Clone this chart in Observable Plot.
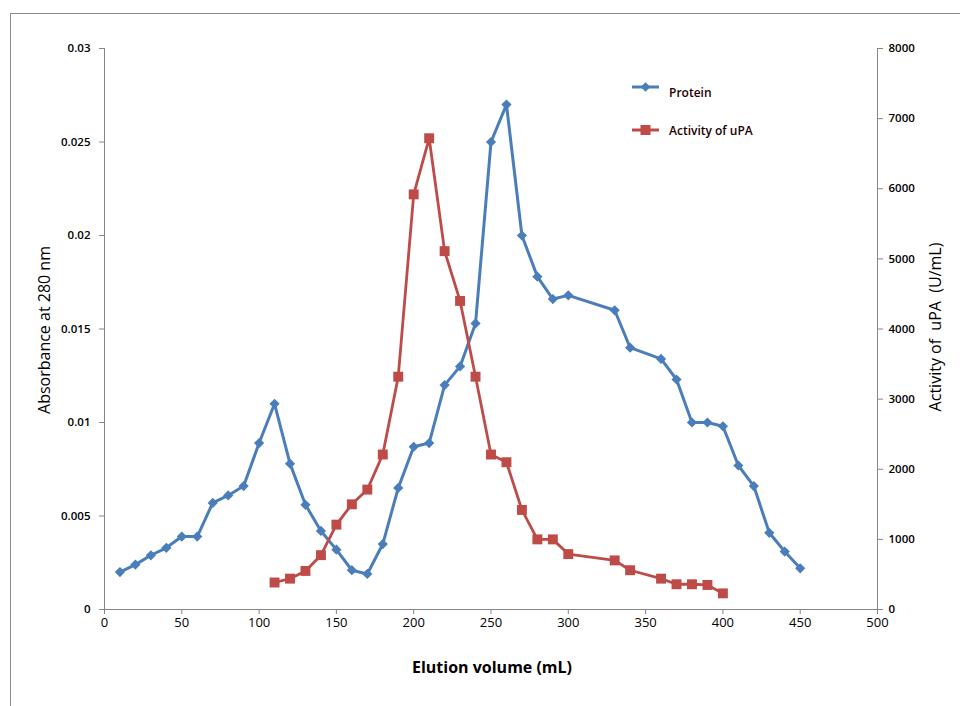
<!DOCTYPE html>
<html>
<head>
<meta charset="utf-8">
<script src="https://cdn.jsdelivr.net/npm/d3@7"></script>
<script src="https://cdn.jsdelivr.net/npm/@observablehq/plot@0.6"></script>
<style>
  html, body { margin: 0; padding: 0; background: #fff; overflow: hidden; }
  #wrap { position: relative; width: 960px; height: 706px; overflow: hidden; }
  #frame { position: absolute; left: 10px; top: 13px; width: 1200px; height: 1000px; border: 1px solid #8c8c8c; }
  #chart { position: absolute; left: 0; top: 0; }
</style>
</head>
<body>
<div id="wrap"><div id="frame"></div><div id="chart"></div></div>
<script>
// ---- data ----
const proteinVolume = [10,20,30,40,50,60,70,80,90,100,110,120,130,140,150,160,170,180,190,200,210,220,230,240,250,260,270,280,290,300,330,340,360,370,380,390,400,410,420,430,440,450];
const proteinAbsorbance = [0.0020,0.0024,0.0029,0.0033,0.0039,0.0039,0.0057,0.0061,0.0066,0.0089,0.0110,0.0078,0.0056,0.0042,0.0032,0.0021,0.0019,0.0035,0.0065,0.0087,0.0089,0.0120,0.0130,0.0153,0.0250,0.0270,0.0200,0.0178,0.0166,0.0168,0.0160,0.0140,0.0134,0.0123,0.0100,0.0100,0.0098,0.0077,0.0066,0.0041,0.0031,0.0022];
const activityVolume = [110,120,130,140,150,160,170,180,190,200,210,220,230,240,250,260,270,280,290,300,330,340,360,370,380,390,400];
const activityUPA = [385,440,550,775,1210,1500,1710,2210,3320,5920,6720,5110,4400,3320,2210,2100,1420,1000,1000,790,700,560,440,360,360,350,230];
const xTicks = [0,50,100,150,200,250,300,350,400,450,500];
const leftTicks = [0,0.005,0.01,0.015,0.02,0.025,0.03];
const rightTicks = [0,1000,2000,3000,4000,5000,6000,7000,8000];
const seriesNames = ["Protein", "Activity of uPA"];
const xTitle = "Elution volume (mL)";
const leftTitle = "Absorbance at 280 nm";
const rightTitle = "Activity of  uPA  (U/mL)";

const blue = "#4a7ebb", red = "#be4b48", axisGray = "#868686";
const leftMax = 0.03, rightMax = 8000;
const k = leftMax / rightMax; // map right axis into left scale

const protein = proteinVolume.map((v, i) => ({volume: v, value: proteinAbsorbance[i]}));
const activity = activityVolume.map((v, i) => ({volume: v, value: activityUPA[i]}));

const plot = Plot.plot({
  width: 960,
  height: 706,
  marginLeft: 104,
  marginRight: 83,
  marginTop: 48,
  marginBottom: 97,
  style: {fontFamily: "Open Sans", color: "#000", background: "transparent", overflow: "visible"},
  x: {domain: [0, 500]},
  y: {domain: [0, leftMax]},
  marks: [
    Plot.ruleX([0, 500], {stroke: axisGray, strokeWidth: 1}),
    Plot.ruleY([0], {stroke: axisGray, strokeWidth: 1}),
    Plot.axisX({ticks: xTicks, tickSize: 5, tickPadding: 3, stroke: axisGray, fill: "#000", fontSize: 13, label: null, tickFormat: d => String(d)}),
    Plot.axisY({anchor: "left", ticks: leftTicks, tickSize: 5, tickPadding: 9, stroke: axisGray, fill: "#000", fontSize: 11.5, fontWeight: 600, label: null, tickFormat: d => String(d)}),
    Plot.axisY({anchor: "right", ticks: rightTicks.map(t => t * k), tickSize: 5, tickPadding: 6, stroke: axisGray, fill: "#000", fontSize: 11.5, fontWeight: 600, label: null, tickFormat: d => String(Math.round(d / k))}),
    Plot.line(protein, {x: "volume", y: "value", stroke: blue, strokeWidth: 3, strokeLinejoin: "round"}),
    Plot.dot(protein, {x: "volume", y: "value", symbol: "diamond2", r: 4.6, fill: blue, stroke: "none"}),
    Plot.line(activity, {x: "volume", y: d => d.value * k, stroke: red, strokeWidth: 2.8, strokeLinejoin: "round"}),
    Plot.dot(activity, {x: "volume", y: d => d.value * k, symbol: "square", r: 5.6, fill: red, stroke: "none"})
  ]
});
document.getElementById("chart").appendChild(plot);

// ---- titles and legend ----
const svg = d3.select(plot);
svg.append("text").attr("x", 492).attr("y", 673).attr("text-anchor", "middle")
  .attr("font-family", "Open Sans").attr("font-size", 16).attr("font-weight", 700).attr("fill", "#000").text(xTitle);
svg.append("text").attr("transform", "translate(50,330) rotate(-90)").attr("text-anchor", "middle")
  .attr("font-family", "Open Sans").attr("font-size", 16).attr("fill", "#000").text(leftTitle);
svg.append("text").attr("transform", "translate(941,327) rotate(-90)").attr("text-anchor", "middle")
  .attr("font-family", "Open Sans").attr("font-size", 16).attr("fill", "#000").text(rightTitle).style("white-space", "pre");

const legend = svg.append("g");
const items = [
  {name: seriesNames[0], color: blue, y: 87, ty: 97, sym: "diamond"},
  {name: seriesNames[1], color: red, y: 130, ty: 135, sym: "square"}
];
items.forEach(it => {
  legend.append("line").attr("x1", 632).attr("x2", 659).attr("y1", it.y).attr("y2", it.y)
    .attr("stroke", it.color).attr("stroke-width", 3);
  if (it.sym === "diamond") {
    legend.append("path").attr("d", d3.symbol(d3.symbolDiamond2, 60)()).attr("transform", `translate(645.5,${it.y})`).attr("fill", it.color);
  } else {
    legend.append("rect").attr("x", 640.5).attr("y", it.y - 5).attr("width", 10).attr("height", 10).attr("fill", it.color);
  }
  legend.append("text").attr("x", 669).attr("y", it.ty).attr("text-anchor", "start").attr("font-family", "Open Sans").attr("font-size", 12)
    .attr("font-weight", 600).attr("fill", "#200").text(it.name);
});
</script>
</body>
</html>
